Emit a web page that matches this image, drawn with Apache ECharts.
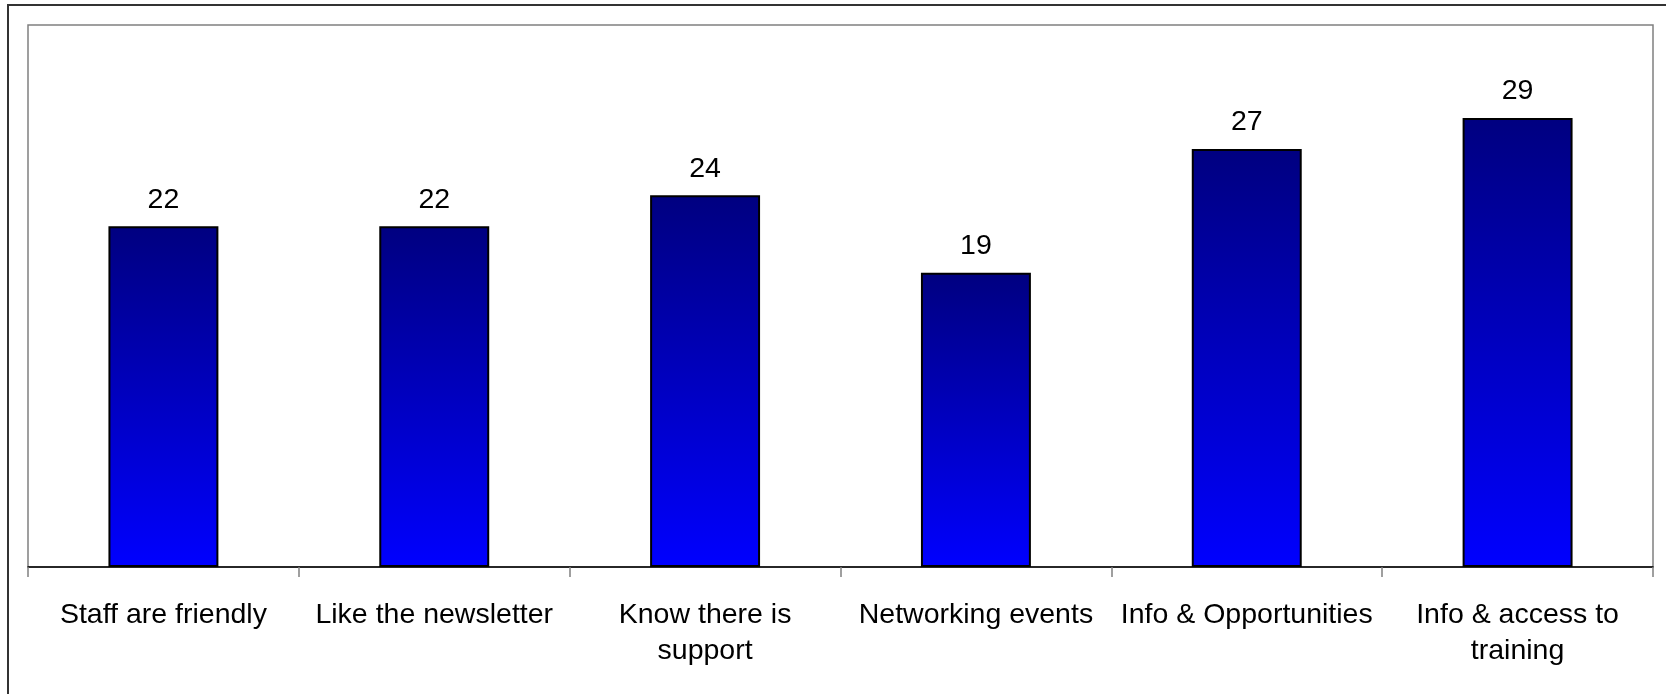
<!DOCTYPE html>
<html>
<head>
<meta charset="utf-8">
<title>Why members like us</title>
<script src="https://cdn.jsdelivr.net/npm/echarts@6/dist/echarts.min.js"></script>
<style>
  html, body {
    margin: 0;
    padding: 0;
    background: #fff;
  }
  #chart {
    width: 1666px;
    height: 694px;
  }
</style>
</head>
<body>
<div id="chart"></div>
<script>
  // data
  const categories = [
    'Staff are friendly',
    'Like the newsletter',
    'Know there is\nsupport',
    'Networking events',
    'Info & Opportunities',
    'Info & access to\ntraining'
  ];
  const counts = [22, 22, 24, 19, 27, 29];

  const chart = echarts.init(document.getElementById('chart'));

  const option = {
    animation: false,
    textStyle: {
      fontFamily: '"Liberation Sans", Arial, sans-serif'
    },
    graphic: [
      {
        // outer frame, runs off the right and bottom edges
        type: 'rect',
        z: -1,
        shape: { x: 8, y: 5, width: 1700, height: 720 },
        style: { fill: 'none', stroke: '#333', lineWidth: 2 }
      }
    ],
    grid: {
      left: 28,
      top: 25,
      right: 13,
      bottom: 127,
      show: true,
      borderColor: '#808080',
      borderWidth: 1.5,
      backgroundColor: '#fff'
    },
    xAxis: {
      type: 'category',
      data: categories,
      axisLine: {
        lineStyle: { color: '#000', width: 1.5 }
      },
      axisTick: {
        show: true,
        length: 10,
        alignWithLabel: false,
        lineStyle: { color: '#808080', width: 1.5 }
      },
      axisLabel: {
        interval: 0,
        margin: 30,
        color: '#000',
        fontSize: 28.5,
        lineHeight: 36,
        align: 'center'
      }
    },
    yAxis: {
      type: 'value',
      min: 0,
      max: 35,
      show: false,
      splitLine: { show: false }
    },
    series: [
      {
        name: 'Count',
        type: 'bar',
        data: counts,
        barWidth: '40.6%',
        itemStyle: {
          color: new echarts.graphic.LinearGradient(0, 0, 0, 1, [
            { offset: 0, color: '#000080' },
            { offset: 1, color: '#0000ff' }
          ]),
          borderColor: '#000',
          borderWidth: 2
        },
        label: {
          show: true,
          position: 'top',
          distance: 12,
          color: '#000',
          fontSize: 28.5
        }
      }
    ]
  };

  chart.setOption(option);
</script>
</body>
</html>
